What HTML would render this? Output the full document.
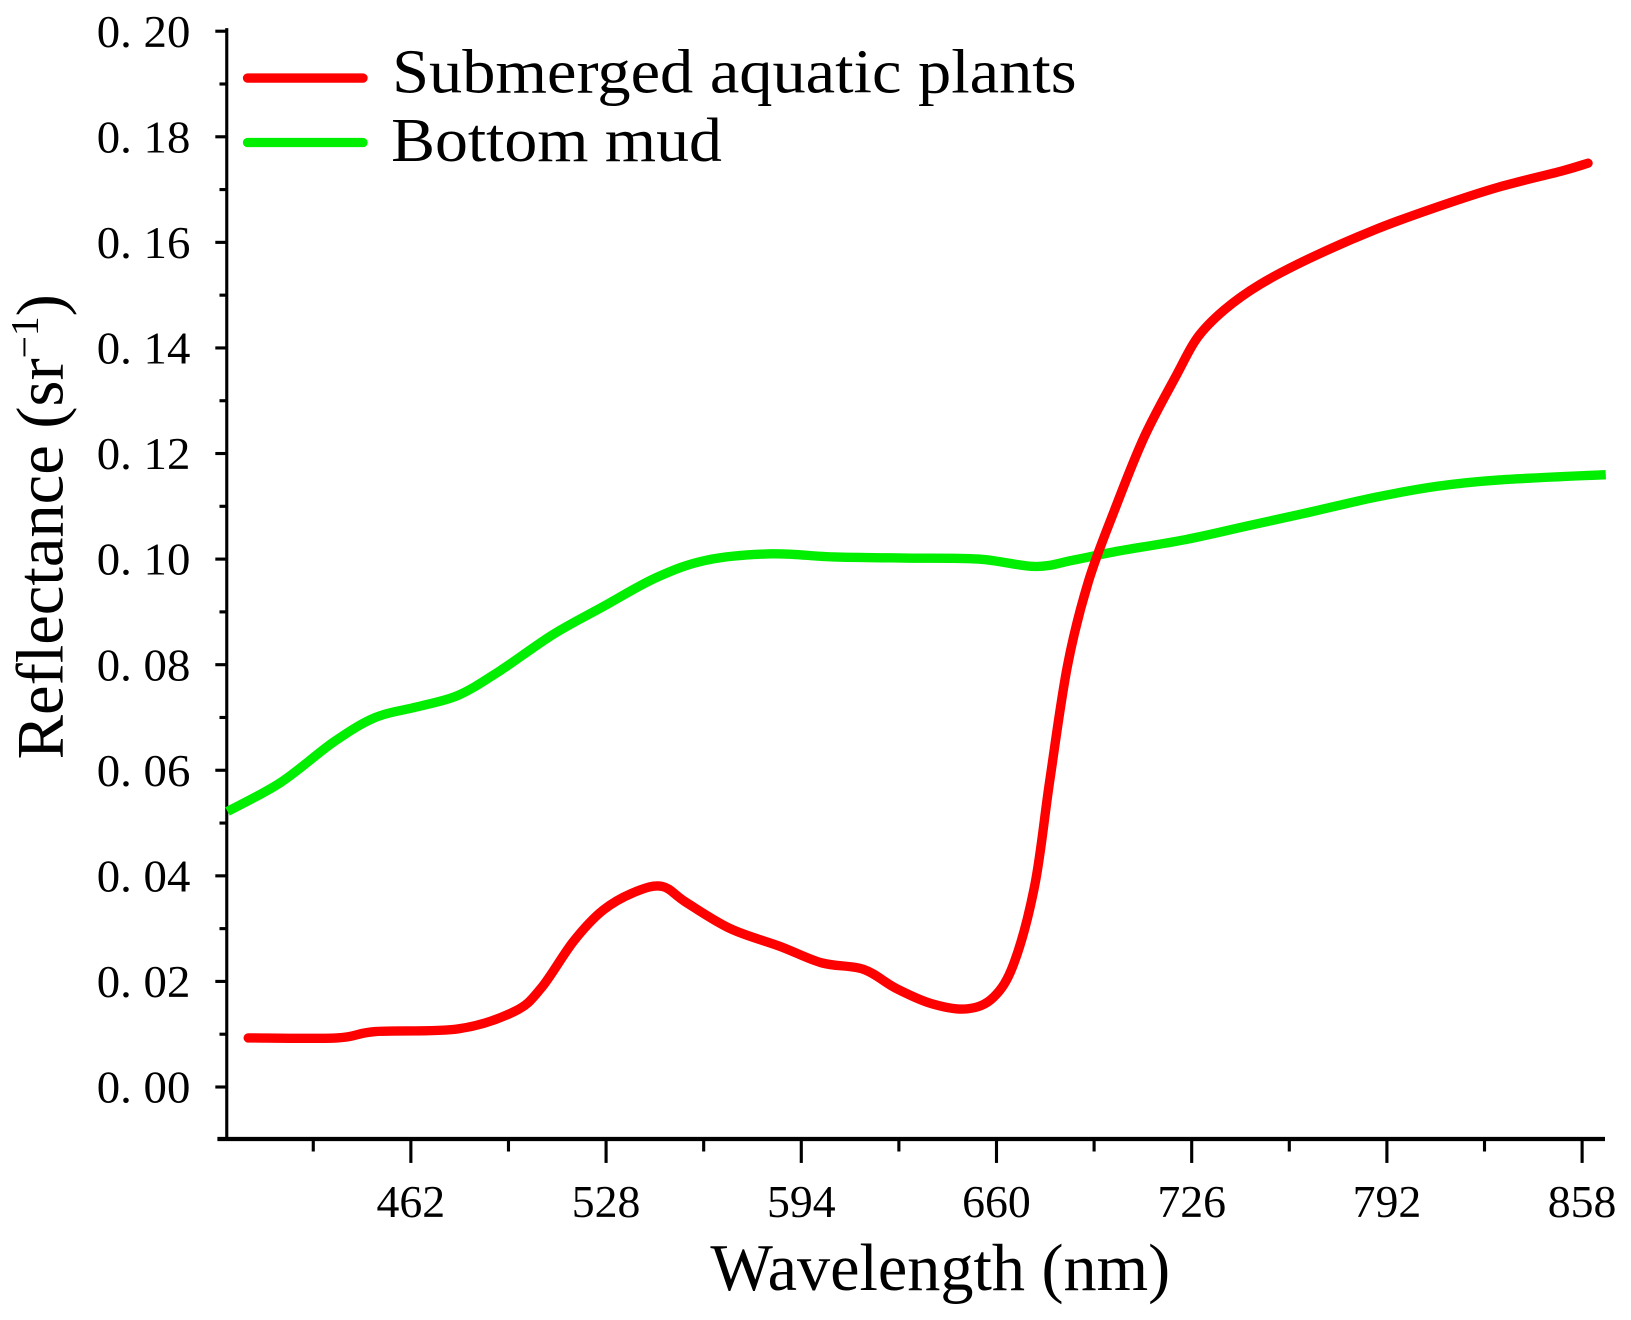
<!DOCTYPE html>
<html><head><meta charset="utf-8"><style>
html,body{margin:0;padding:0;background:#fff;}
svg{display:block;}
text{font-family:"Liberation Serif","Noto Serif CJK SC",serif;fill:#000;}
</style></head><body>
<svg id="chart" width="1631" height="1320" viewBox="0 0 1568 1269" preserveAspectRatio="none" xmlns="http://www.w3.org/2000/svg">
<g id="axes"></g>
<g id="series"></g>
<g id="legend">
  <line x1="238" y1="75" x2="349" y2="75" stroke="#ff0000" stroke-width="9" stroke-linecap="round"/>
  <text x="377" y="89" font-size="60" textLength="658" lengthAdjust="spacingAndGlyphs">Submerged aquatic plants</text>
  <line x1="238" y1="137" x2="349" y2="137" stroke="#00ee00" stroke-width="9" stroke-linecap="round"/>
  <text x="376" y="155" font-size="60" textLength="318" lengthAdjust="spacingAndGlyphs">Bottom mud</text>
</g>
<text x="683" y="1240" font-size="64" textLength="442" lengthAdjust="spacingAndGlyphs">Wavelength (nm)</text>
<text transform="translate(60,730) rotate(-90)" font-size="64">Reflectance (sr<tspan font-size="38" dy="-24">−1</tspan><tspan dy="24">)</tspan></text>
</svg>
<script>
const xTicks = [462, 528, 594, 660, 726, 792, 858];
const xMinor = [429, 495, 561, 627, 693, 759, 825];
const yTicks = [0, 0.02, 0.04, 0.06, 0.08, 0.10, 0.12, 0.14, 0.16, 0.18, 0.20];
const yTickLabels = ["0. 00","0. 02","0. 04","0. 06","0. 08","0. 10","0. 12","0. 14","0. 16","0. 18","0. 20"];
const plantsWl = [407,437,450,478,497,506,517,527,538,547,555,570,587,601,615,626,638,650,659,666,673,678,684,691,700,710,721,728,737,749,766,788,809,830,851,860];
const plantsR = [0.0093,0.0093,0.0105,0.011,0.0143,0.0187,0.0276,0.0335,0.037,0.038,0.035,0.030,0.0266,0.0235,0.0223,0.0187,0.0158,0.0148,0.017,0.0236,0.0384,0.058,0.0798,0.0956,0.1094,0.1232,0.135,0.142,0.1472,0.152,0.157,0.1624,0.1667,0.1705,0.1735,0.175];
const mudWl = [400,418,436,450,464,478,492,510,527,545,562,584,605,629,654,673,686,700,724,745,766,788,809,830,866];
const mudR = [0.0522,0.0577,0.0654,0.070,0.072,0.0742,0.0788,0.0857,0.091,0.0965,0.0998,0.101,0.1004,0.1002,0.1,0.0986,0.0998,0.1014,0.1037,0.1063,0.1089,0.1117,0.1138,0.115,0.116];

const NS = "http://www.w3.org/2000/svg";
const xS = w => 395 + (w - 462) * (1521 - 395) / (858 - 462);
const yS = r => 1045 - r * (1045 - 30) / 0.20;
const axes = document.getElementById('axes');
function mk(tag, attrs, parent){const e=document.createElementNS(NS,tag);for(const k in attrs)e.setAttribute(k,attrs[k]);parent.appendChild(e);return e;}

let l = mk('line',{x1:218,y1:27,x2:218,y2:1096,stroke:'#000','stroke-width':3},axes);


l = mk('line',{x1:209,y1:1095,x2:1543,y2:1095,stroke:'#000','stroke-width':4},axes);



yTicks.forEach((v,i)=>{
  const y=yS(v);
  const t=mk('line',{x1:207,y1:y,x2:218,y2:y,stroke:'#000','stroke-width':3},axes);
  
  
  const tx=mk('text',{x:93,y:y+15,'font-size':44,textLength:90,lengthAdjust:'spacingAndGlyphs'},axes);
  tx.textContent=yTickLabels[i];
  
  
  if(i<yTicks.length-1){
    const ym=yS(v+0.01);
    const m=mk('line',{x1:211,y1:ym,x2:218,y2:ym,stroke:'#000','stroke-width':3},axes);
    
    
  }
});
xTicks.forEach(v=>{
  const x=xS(v);
  const t=mk('line',{x1:x,y1:1095,x2:x,y2:1118,stroke:'#000','stroke-width':3},axes);
  
  
  const tx=mk('text',{x:x-33,y:1170,'font-size':44,textLength:66,lengthAdjust:'spacingAndGlyphs'},axes);
  tx.textContent=v;
  
  
});
xMinor.forEach(v=>{
  const x=xS(v);
  const t=mk('line',{x1:x,y1:1095,x2:x,y2:1107,stroke:'#000','stroke-width':3},axes);
  
  
});

function smooth(xs, ys){
  const p=xs.map((w,i)=>[xS(w),yS(ys[i])]);
  let d='M'+p[0][0]+','+p[0][1];
  for(let i=0;i<p.length-1;i++){
    const p0=p[i-1]||p[i],p1=p[i],p2=p[i+1],p3=p[i+2]||p2;
    const c1=[p1[0]+(p2[0]-p0[0])/6,p1[1]+(p2[1]-p0[1])/6];
    const c2=[p2[0]-(p3[0]-p1[0])/6,p2[1]-(p3[1]-p1[1])/6];
    d+=' C'+c1[0]+','+c1[1]+' '+c2[0]+','+c2[1]+' '+p2[0]+','+p2[1];
  }
  return d;
}
const series=document.getElementById('series');
const mud=mk('path',{d:smooth(mudWl,mudR),fill:'none',stroke:'#00ee00','stroke-width':9,'stroke-linejoin':'round'},series);


const pl=mk('path',{d:smooth(plantsWl,plantsR),fill:'none',stroke:'#ff0000','stroke-width':9,'stroke-linejoin':'round','stroke-linecap':'round'},series);


</script>
</body></html>
